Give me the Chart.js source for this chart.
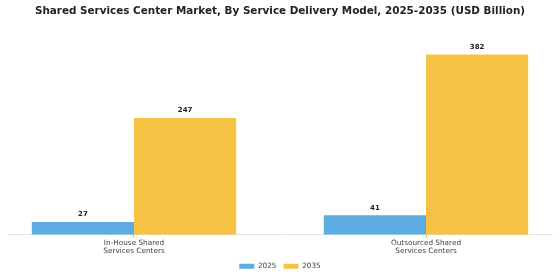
<!DOCTYPE html>
<html>
<head>
<meta charset="utf-8">
<script src="https://cdn.jsdelivr.net/npm/chart.js@4.4.1/dist/chart.umd.min.js"></script>
<style>
  html, body { margin: 0; padding: 0; background: #fff; }
  #wrap { width: 560px; height: 280px; }
</style>
</head>
<body>
<div id="wrap"><canvas id="chart"></canvas></div>
<script>
// data
const categories = [
  ["In-House Shared", "Services Centers"],
  ["Outsourced Shared", "Services Centers"],
];
const years = ["2025", "2035"];
const values2025 = [27, 41];
const values2035 = [247, 382];
const colors = ["#5DADE2", "#F5C244"];

// value labels above each bar
const barLabels = {
  id: "barLabels",
  afterDatasetsDraw(chart) {
    const ctx = chart.ctx;
    ctx.save();
    ctx.font = "bold 7px 'DejaVu Sans'";
    ctx.fillStyle = "#222";
    ctx.textAlign = "center";
    ctx.textBaseline = "bottom";
    chart.data.datasets.forEach((ds, i) => {
      chart.getDatasetMeta(i).data.forEach((bar, j) => {
        ctx.fillText(ds.data[j].y, bar.x, bar.y - 4);
      });
    });
    ctx.restore();
  },
};

const toPoints = (arr) => arr.map((v, i) => ({ x: i, y: v }));

new Chart(document.getElementById("chart"), {
  type: "bar",
  data: {
    datasets: [
      { label: years[0], data: toPoints(values2025), backgroundColor: colors[0] },
      { label: years[1], data: toPoints(values2035), backgroundColor: colors[1] },
    ],
  },
  options: {
    responsive: true,
    maintainAspectRatio: false,
    animation: false,
    categoryPercentage: 0.7,
    barPercentage: 1.0,
    layout: { padding: { left: 8, right: 8, top: 0, bottom: 0 } },
    plugins: {
      title: {
        display: true,
        text: "Shared Services Center Market, By Service Delivery Model, 2025-2035 (USD Billion)",
        color: "#222",
        font: { family: "'DejaVu Sans'", size: 10.4, weight: "bold" },
        padding: { top: 5, bottom: 19 },
      },
      legend: {
        position: "bottom",
        labels: {
          boxWidth: 15,
          boxHeight: 5,
          padding: 7,
          color: "#444",
          font: { family: "'DejaVu Sans'", size: 7.3 },
        },
      },
      tooltip: { enabled: false },
    },
    scales: {
      x: {
        type: "linear",
        offset: false,
        min: -0.4315,
        max: 1.4315,
        afterBuildTicks: (scale) => {
          scale.ticks = categories.map((c, i) => ({ value: i }));
        },
        grid: { display: true, offset: false, drawOnChartArea: false, tickLength: 3, color: "#bbb" },
        border: { display: true, color: "#e2e2e2" },
        ticks: {
          maxRotation: 0,
          autoSkip: false,
          padding: 1,
          color: "#444",
          font: { family: "'DejaVu Sans'", size: 7.3, lineHeight: 1.1 },
          callback: (v) => categories[v],
        },
      },
      y: {
        display: false,
        min: 0,
        max: 420,
      },
    },
  },
  plugins: [barLabels],
});
</script>
</body>
</html>
